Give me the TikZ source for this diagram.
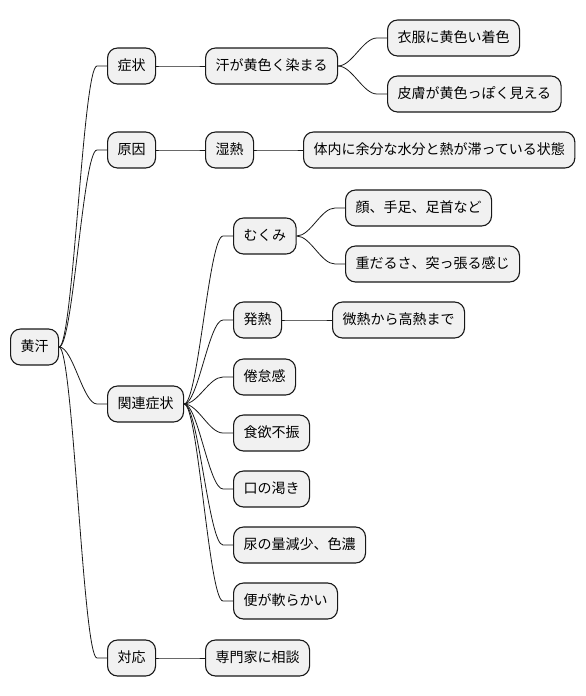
\documentclass[tikz,border=0pt]{standalone}
\usepackage{fontspec}
\setmainfont{Noto Sans CJK JP}
\usetikzlibrary{calc}
\definecolor{boxfill}{HTML}{F1F1F1}
\definecolor{boxline}{HTML}{181818}
\tikzset{
  mm/.style={draw=boxline, line width=1.1pt, fill=boxfill, rounded corners=10pt,
    minimum height=36pt, inner xsep=10pt, inner ysep=0pt, anchor=west,
    font=\fontsize{14pt}{16pt}\selectfont, text height=11pt, text depth=3pt},
  conn/.style={draw=boxline, line width=0.8pt}
}
\newcommand{\lnk}[2]{\draw[conn] (#1.east) .. controls +(14pt,0) and +(-14pt,0) .. ($(#2.west)+(-10pt,0)$) -- (#2.west);}
\begin{document}
\begin{tikzpicture}[x=1pt,y=-1pt]
\useasboundingbox (0,0) rectangle (586,696);
\node[mm] (root) at (10,347) {黄汗};
\node[mm] (a) at (107,66) {症状};
\node[mm] (b) at (107,150) {原因};
\node[mm] (c) at (107,404) {関連症状};
\node[mm] (d) at (107,658) {対応};
\node[mm] (a1) at (205,66) {汗が黄色く染まる};
\node[mm] (a11) at (387,38) {衣服に黄色い着色};
\node[mm] (a12) at (387,94) {皮膚が黄色っぽく見える};
\node[mm] (b1) at (205,150) {湿熱};
\node[mm] (b11) at (303,150) {体内に余分な水分と熱が滞っている状態};
\node[mm] (c1) at (233,236) {むくみ};
\node[mm] (c11) at (345,208) {顔、手足、足首など};
\node[mm] (c12) at (345,264) {重だるさ、突っ張る感じ};
\node[mm] (c2) at (233,320) {発熱};
\node[mm] (c21) at (332,320) {微熱から高熱まで};
\node[mm] (c3) at (233,377) {倦怠感};
\node[mm] (c4) at (233,433) {食欲不振};
\node[mm] (c5) at (233,489) {口の渇き};
\node[mm] (c6) at (233,545) {尿の量減少、色濃};
\node[mm] (c7) at (233,601) {便が軟らかい};
\node[mm] (d1) at (205,658) {専門家に相談};
\lnk{root}{a}
\lnk{root}{b}
\lnk{root}{c}
\lnk{root}{d}
\lnk{a}{a1}
\lnk{a1}{a11}
\lnk{a1}{a12}
\lnk{b}{b1}
\lnk{b1}{b11}
\lnk{c}{c1}
\lnk{c1}{c11}
\lnk{c1}{c12}
\lnk{c}{c2}
\lnk{c2}{c21}
\lnk{c}{c3}
\lnk{c}{c4}
\lnk{c}{c5}
\lnk{c}{c6}
\lnk{c}{c7}
\lnk{d}{d1}
\end{tikzpicture}
\end{document}
